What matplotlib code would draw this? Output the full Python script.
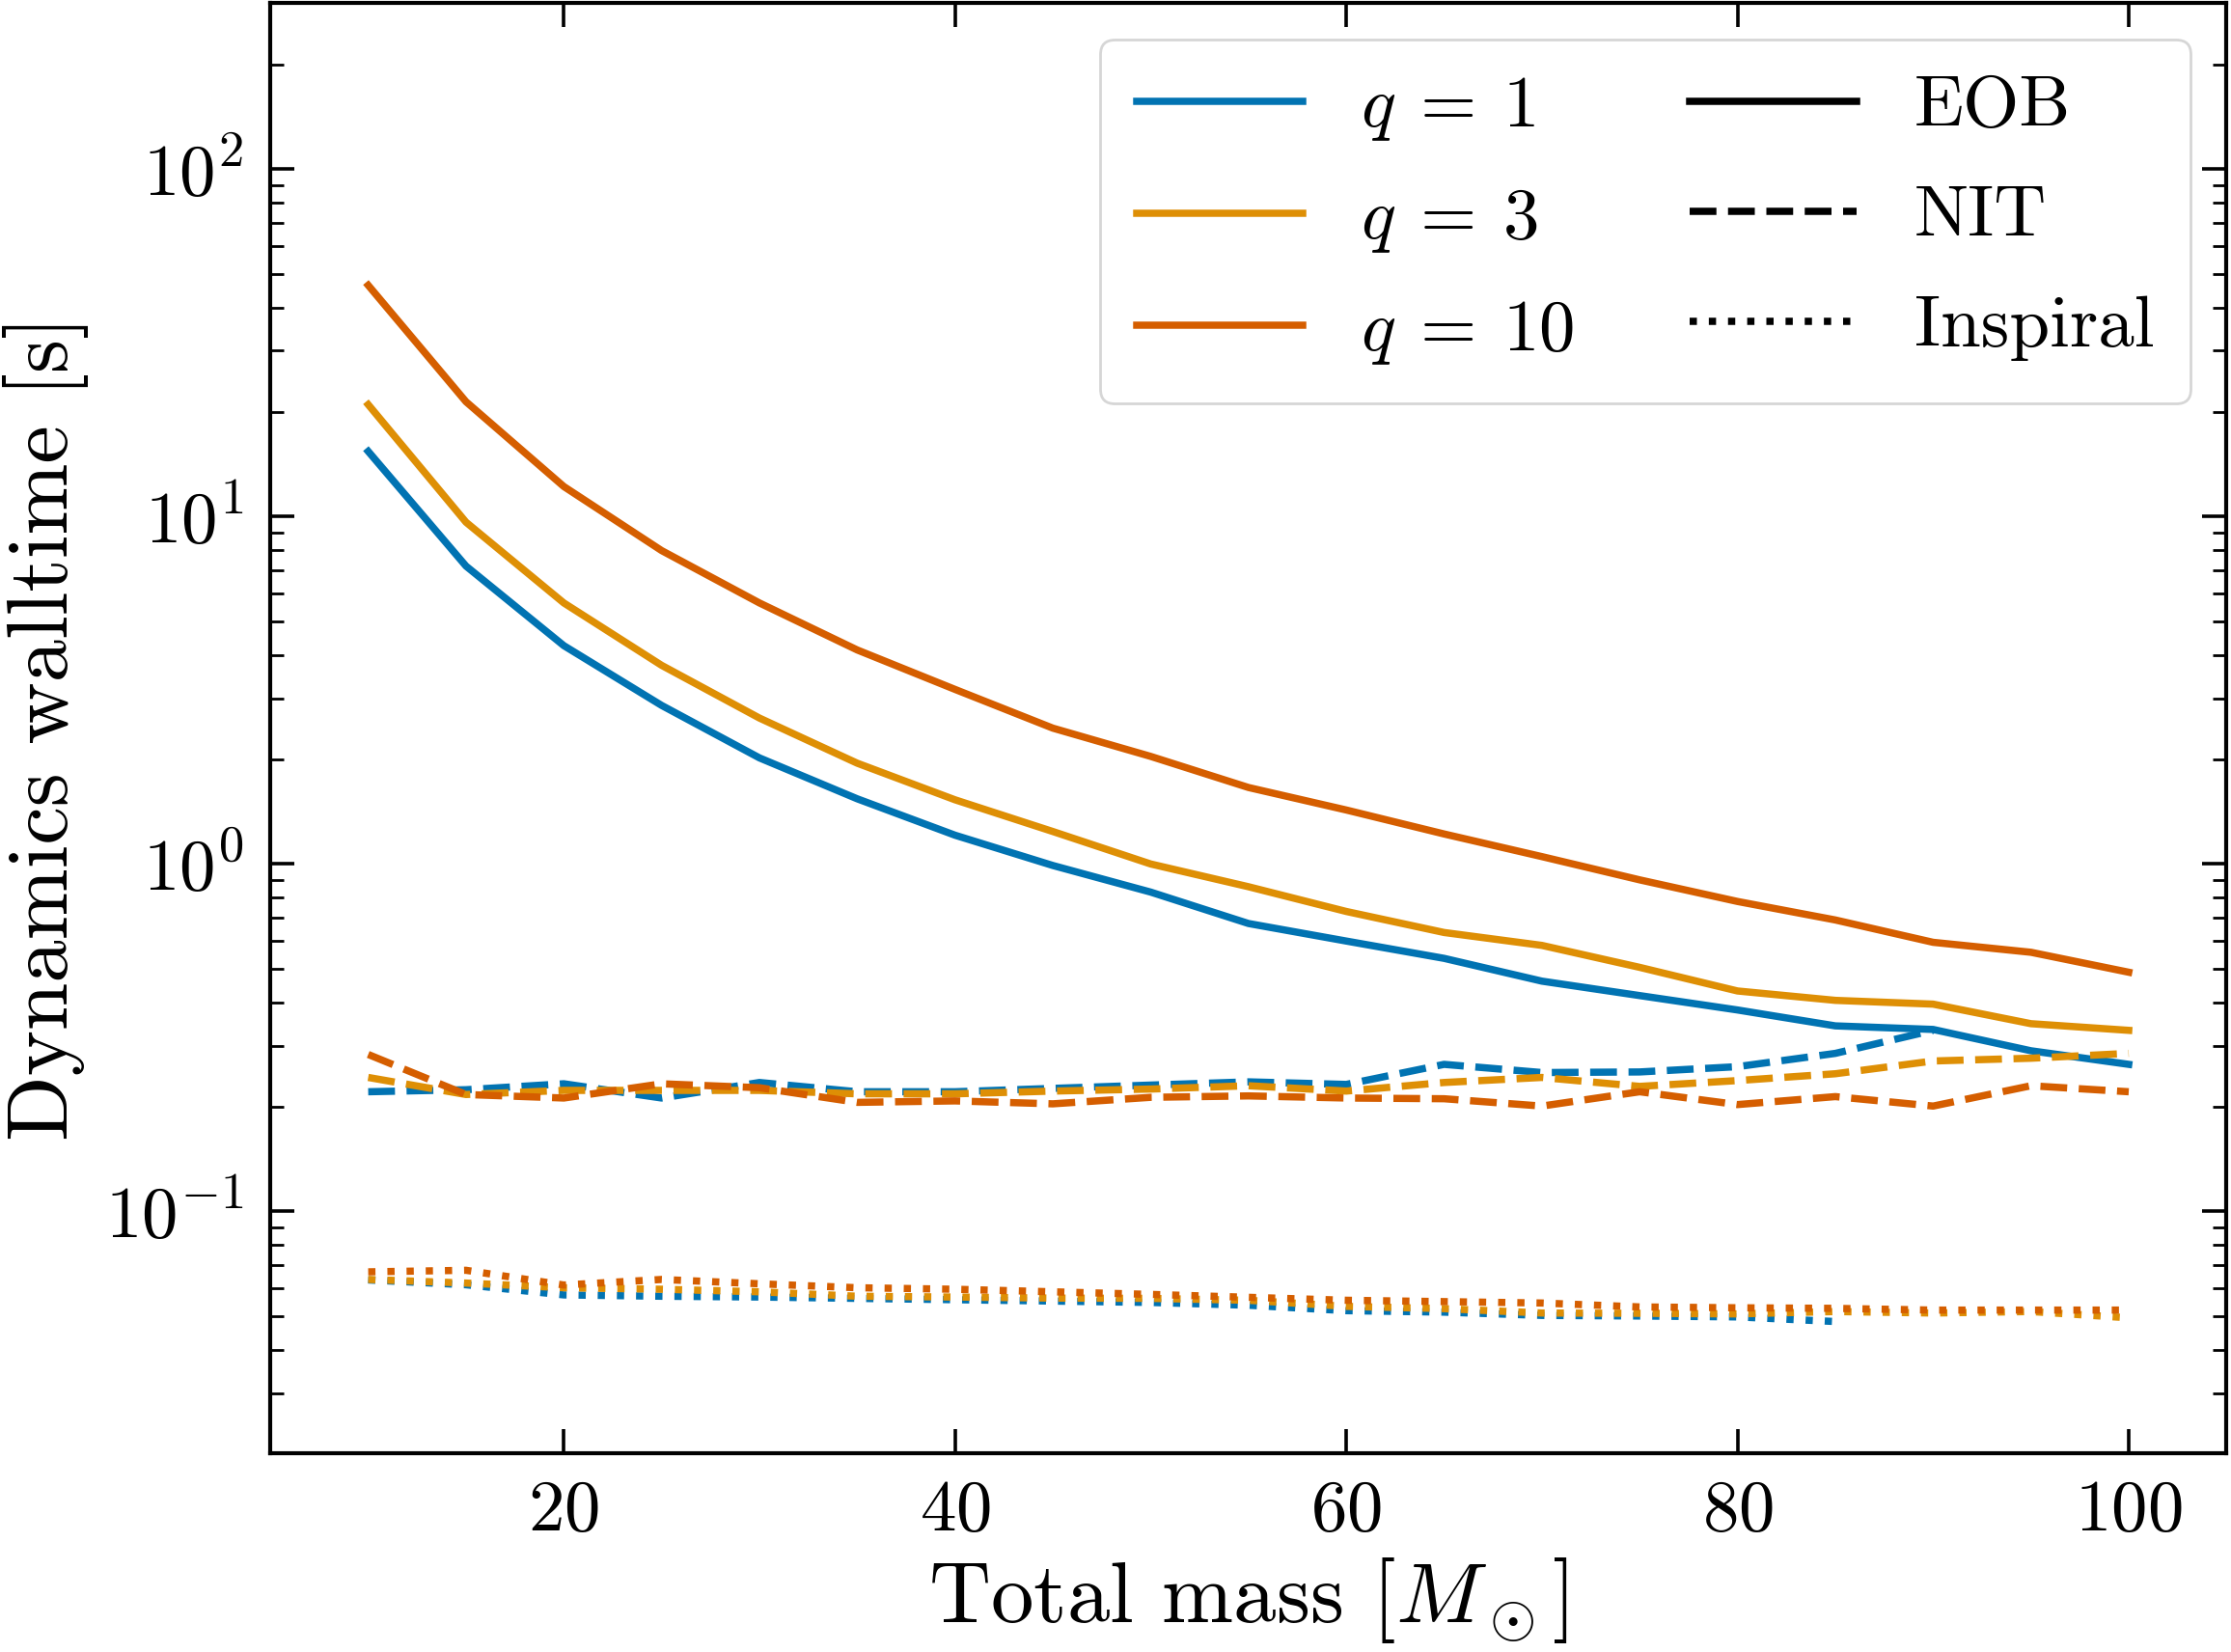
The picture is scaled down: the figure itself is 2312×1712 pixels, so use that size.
import matplotlib
matplotlib.use("Agg")
import matplotlib.pyplot as plt
from matplotlib.lines import Line2D
import numpy as np

plt.rcParams.update({
    "font.family": "serif",
    "font.serif": ["cmr10"],
    "mathtext.fontset": "cm",
    "axes.formatter.use_mathtext": True,
    "axes.unicode_minus": False,
    "xtick.direction": "in",
    "ytick.direction": "in",
    "xtick.top": True,
    "ytick.right": True,
})

# total mass grid [M_sun]
mass = [10, 15, 20, 25, 30, 35, 40, 45, 50, 55, 60, 65, 70, 75, 80, 85, 90, 95, 100]

# EOB dynamics walltime [s]
eob_q1 = [15.4, 7.2, 4.25, 2.86, 2.02, 1.54, 1.21, 0.99, 0.83, 0.674, 0.60, 0.535,
          0.46, 0.418, 0.38, 0.342, 0.334, 0.29, 0.265]
eob_q3 = [21.0, 9.63, 5.64, 3.73, 2.63, 1.95, 1.53, 1.24, 1.0, 0.86, 0.73, 0.635,
          0.583, 0.504, 0.431, 0.405, 0.395, 0.347, 0.332]
eob_q10 = [46.3, 21.4, 12.2, 7.98, 5.64, 4.13, 3.18, 2.46, 2.04, 1.66, 1.43, 1.22,
           1.05, 0.90, 0.78, 0.69, 0.595, 0.557, 0.488]

# NIT dynamics walltime [s]
nit_q1 = [0.221, 0.224, 0.233, 0.212, 0.235, 0.221, 0.221, 0.226, 0.231, 0.236,
          0.232, 0.265, 0.251, 0.252, 0.261, 0.285, 0.332]
nit_q3 = [0.243, 0.217, 0.223, 0.223, 0.223, 0.218, 0.218, 0.222, 0.225, 0.230,
          0.222, 0.235, 0.243, 0.229, 0.238, 0.249, 0.271, 0.276, 0.285]
nit_q10 = [0.283, 0.217, 0.212, 0.233, 0.227, 0.206, 0.208, 0.204, 0.213, 0.215,
           0.212, 0.211, 0.201, 0.221, 0.203, 0.214, 0.201, 0.230, 0.221]

# Inspiral walltime [s]
insp_q1 = [0.0635, 0.0615, 0.0575, 0.057, 0.0567, 0.0562, 0.0557, 0.0552, 0.0547,
           0.0537, 0.0518, 0.0513, 0.0502, 0.050, 0.0497, 0.0482]
insp_q3 = [0.0637, 0.0622, 0.0603, 0.0597, 0.0587, 0.057, 0.0567, 0.0563, 0.0562,
           0.0555, 0.0533, 0.0525, 0.051, 0.0509, 0.0507, 0.0515, 0.051, 0.0515, 0.0494]
insp_q10 = [0.067, 0.0677, 0.0614, 0.0637, 0.0619, 0.0603, 0.0597, 0.0587, 0.0577,
            0.0566, 0.0555, 0.055, 0.0545, 0.0531, 0.0528, 0.0526, 0.052, 0.052, 0.052]

colors = ["#0173b2", "#de8f05", "#d55e00"]
q_labels = [r"$q\:=\:1$", r"$q\:=\:3$", r"$q\:=\:10$"]

fig = plt.figure(figsize=(11.56, 8.56), dpi=200)
ax = fig.add_axes([0.1212, 0.1206, 0.8768, 0.8774])

lw = 2.7
for eob, nit, insp, c in zip([eob_q1, eob_q3, eob_q10],
                             [nit_q1, nit_q3, nit_q10],
                             [insp_q1, insp_q3, insp_q10], colors):
    ax.plot(mass[:len(eob)], eob, color=c, ls="-", lw=lw)
    ax.plot(mass[:len(nit)], nit, color=c, ls="--", lw=lw)
    ax.plot(mass[:len(insp)], insp, color=c, ls=":", lw=lw)

ax.set_yscale("log")
ax.set_xlim(5, 105)
ax.set_ylim(0.0202, 300)
ax.set_xticks([20, 40, 60, 80, 100])
ax.tick_params(axis="both", which="major", labelsize=27, length=9, width=1.3, pad=10)
ax.tick_params(axis="y", which="minor", length=5, width=1.0)
for s in ax.spines.values():
    s.set_linewidth(1.5)

ax.set_xlabel(r"Total mass $[M_\odot]$", fontsize=32, labelpad=4)
ax.set_ylabel("Dynamics walltime [s]", fontsize=32, labelpad=6)

handles = [Line2D([], [], color=c, lw=lw) for c in colors]
handles += [Line2D([], [], color="k", lw=lw, ls=ls) for ls in ["-", "--", ":"]]
labels = q_labels + ["EOB", "NIT", "Inspiral"]
ax.legend(handles, labels, loc="upper right", ncol=2, fontsize=27,
          handlelength=2.3, handletextpad=0.8, columnspacing=1.6,
          labelspacing=0.62, borderpad=0.5, fancybox=True)

fig.savefig("out.png", dpi=200)
